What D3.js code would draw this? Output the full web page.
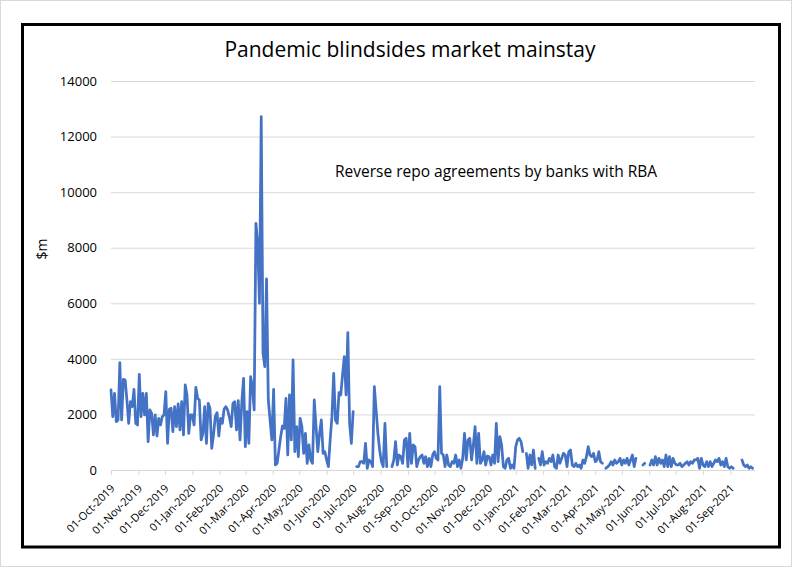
<!DOCTYPE html>
<html>
<head>
<meta charset="utf-8">
<script src="https://cdn.jsdelivr.net/npm/d3@7"></script>
<style>
  body { margin: 0; background: #ffffff; }
  svg { display: block; font-family: "Open Sans", sans-serif; }
</style>
</head>
<body>
<svg id="chart" width="793" height="568"></svg>
<script>
// Reverse repo with RBA, $m, one reading every second day from startDate (null = no data)
const startDate = "2019-10-01";
const endDate = "2021-10-01";
const stepDays = 2;
const repoValues = [
    2880, 1920, 2760, 1740, 1800, 3860, 1800, 3260, 3240, 2520, 1680, 2460, 2280, 2900, 1680, 1620,
    3440, 1920, 2760, 1980, 2760, 1020, 2160, 2040, 1260, 1980, 1224, 1860, 1620, 1920, 1980, 2820,
    960, 2184, 2220, 1380, 2280, 1560, 2376, 1440, 2460, 1260, 3060, 2700, 1320, 1980, 1980, 1620,
    2976, 2580, 2520, 1080, 1320, 2280, 960, 2400, 2220, 780, 1260, 1920, 2064, 1224, 1860, 1680,
    2196, 2280, 2160, 1896, 1560, 2400, 2460, 1440, 2496, 1080, 2424, 3300, 840, 2100, 960, 3360,
    3000, 2160,
    8880, 8160, 6000, 12720, 4200, 3720, 6876, 2520, 1800, 1080, 2904, 180, 240, 720, 1200,
    1584, 1500, 2580, 540, 2700, 1080, 3960, 660, 1560, 480, 1860, 1560, 600, 1320, 240, 900,
    360, 240, 2520, 1560, 660, 1320, 1800, 600, 660, 360, 120, 1080, 1920, 3480, 1800, 1680,
    2784, 2700, 3420, 4080, 2700, 4944, 1680, 960, 2100,
    null,
    120, 120, 300, 300, 240, 960, 60, 360, 300, 120, 3000, 2160, 1320, 720, 300, 120, 1680, 120,
    null, null,
    120, 360, 1020, 180, 540, 480, 240, 1080, 1140, 120, 1320, 240, 900, 840, 120, 360,
    480, 540, 240, 480, 120, 420, 120, 540, 660, 420, 360, 3000, 600, 540, 120, 540,
    180, 120, 300, 240, 540, 120,
    360, 60, 420, 1320, 360, 1080, 1140, 360, 900, 1560, 240, 1320, 240, 360, 660, 180,
    504, 480, 180, 540, 240, 1680, 300, 1200, 900, 120, 60, 360, 420, 60, 180, 60,
    840, 1080, 1140, 1020, 660,
    null,
    600, 60, 540, 180, 720, 60,
    null,
    420, 180, 660, 180, 300, 240, 420, 300, 540, 120, 60, 540, 240, 420, 600, 540,
    120, 660, 720, 180, 120, 240, 120, 180, 60, 360, 240, 480, 840, 540, 480, 600,
    300, 360, 660, 300, 240,
    null,
    60, 120, 180, 300, 180, 360, 240, 300, 420, 180, 360, 240, 420, 180, 360, 540, 120, 420,
    null, null, null,
    180, 240,
    null, null,
    180, 360, 180, 480, 180, 420, 240, 360, 120, 540, 120, 480, 120, 420, 240, 180,
    180, 240, 120, 180, 240, 300, 180, 300, 240, 360, 360, 420, 60, 420, 180, 120,
    300, 120, 300, 120, 240, 360, 300, 420, 180, 300, 120, 420, 120, 60, 120, 60,
    null, null, null, null,
    360, 180, 120, 180, 60, 120, 60
];
const yTicks = [0, 2000, 4000, 6000, 8000, 10000, 12000, 14000];
const monthLabels = [
    "01-Oct-2019", "01-Nov-2019", "01-Dec-2019", "01-Jan-2020", "01-Feb-2020", "01-Mar-2020",
    "01-Apr-2020", "01-May-2020", "01-Jun-2020", "01-Jul-2020", "01-Aug-2020", "01-Sep-2020",
    "01-Oct-2020", "01-Nov-2020", "01-Dec-2020", "01-Jan-2021", "01-Feb-2021", "01-Mar-2021",
    "01-Apr-2021", "01-May-2021", "01-Jun-2021", "01-Jul-2021", "01-Aug-2021", "01-Sep-2021"
];

const parseDay = d3.timeParse("%Y-%m-%d");
const parseLabel = d3.timeParse("%d-%b-%Y");
const start = parseDay(startDate);

const series = repoValues.map((v, i) => ({
    date: d3.timeDay.offset(start, i * stepDays),
    value: v
}));

const svg = d3.select("#chart");

// Frames
svg.append("rect")
    .attr("x", 0.5).attr("y", 0.5)
    .attr("width", 791).attr("height", 566)
    .attr("fill", "#ffffff")
    .attr("stroke", "#d9d9d9");

svg.append("rect")
    .attr("x", 22.5).attr("y", 24.5)
    .attr("width", 757).attr("height", 522.5)
    .attr("fill", "none")
    .attr("stroke", "#000000")
    .attr("stroke-width", 3);

const x = d3.scaleTime()
    .domain([start, parseDay(endDate)])
    .range([111, 757]);

const y = d3.scaleLinear()
    .domain([0, 14000])
    .range([470, 81]);

const gridRight = 755;

// Gridlines
svg.append("g")
    .attr("transform", "translate(111,0)")
    .call(d3.axisLeft(y).tickValues(yTicks).tickSize(-(gridRight - 111)).tickFormat(""))
    .call(g => g.select(".domain").remove())
    .call(g => g.selectAll("line").attr("stroke", "#d9d9d9"));

// Y labels
svg.append("g")
    .attr("transform", "translate(111,0)")
    .call(d3.axisLeft(y).tickValues(yTicks).tickSize(0).tickPadding(14).tickFormat(d3.format("d")))
    .call(g => g.select(".domain").remove())
    .call(g => g.selectAll("text")
        .attr("font-family", "Open Sans, sans-serif")
        .attr("font-size", 13)
        .attr("fill", "#000000"));

// X axis
svg.append("g")
    .attr("transform", "translate(0,470)")
    .call(d3.axisBottom(x)
        .tickValues(monthLabels.map(parseLabel))
        .tickSize(5)
        .tickSizeOuter(0)
        .tickFormat(d3.timeFormat("%d-%b-%Y")))
    .call(g => g.select(".domain").attr("stroke", "#d9d9d9").attr("d", `M111,0.5H${gridRight}`))
    .call(g => g.selectAll("line").attr("stroke", "#d9d9d9"))
    .call(g => g.selectAll("text")
        .attr("font-family", "Open Sans, sans-serif")
        .attr("font-size", 11)
        .attr("fill", "#000000")
        .attr("y", 0)
        .attr("dy", 0)
        .attr("text-anchor", "end")
        .attr("transform", "translate(4,19) rotate(-45)"));

// Line
const line = d3.line()
    .defined(d => d.value !== null)
    .x(d => x(d.date))
    .y(d => y(d.value));

svg.append("path")
    .datum(series)
    .attr("d", line)
    .attr("fill", "none")
    .attr("stroke", "#4472c4")
    .attr("stroke-width", 2.75)
    .attr("stroke-linejoin", "round")
    .attr("stroke-linecap", "round");

// Texts
svg.append("text")
    .attr("x", 410)
    .attr("y", 57)
    .attr("text-anchor", "middle")
    .attr("font-size", 21)
    .attr("fill", "#000000")
    .text("Pandemic blindsides market mainstay");

svg.append("text")
    .attr("transform", "translate(47,249) rotate(-90)")
    .attr("text-anchor", "middle")
    .attr("font-size", 14)
    .attr("fill", "#000000")
    .text("$m");

svg.append("text")
    .attr("x", 335)
    .attr("y", 177)
    .attr("font-size", 15.5)
    .attr("fill", "#000000")
    .text("Reverse repo agreements by banks with RBA");
</script>
</body>
</html>
